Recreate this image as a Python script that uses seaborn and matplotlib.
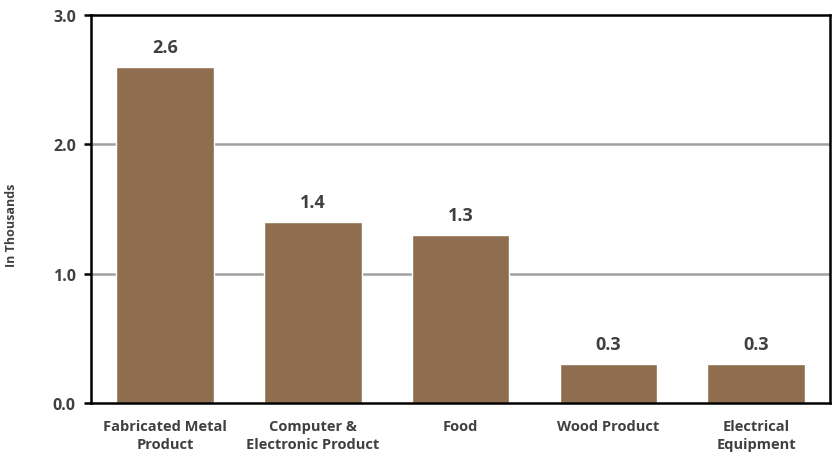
import matplotlib
matplotlib.use('Agg')
import matplotlib.pyplot as plt
import seaborn as sns

categories = ['Fabricated Metal\nProduct', 'Computer &\nElectronic Product', 'Food',
              'Wood Product', 'Electrical\nEquipment']
values = [2.6, 1.4, 1.3, 0.3, 0.3]
bar_labels = ['2.6', '1.4', '1.3', '0.3', '0.3']

sns.set_style('white')
plt.rcParams['font.family'] = ['Open Sans', 'DejaVu Sans']

fig = plt.figure(figsize=(8.36, 4.56), dpi=100)
ax = fig.add_axes([0.109, 0.114, 0.884, 0.851])

sns.barplot(x=categories, y=values, color='#8E6E4F', saturation=1, width=0.66, ax=ax)

ax.set_ylim(0, 3.0)
ax.set_yticks([0, 1, 2, 3])
ax.set_yticklabels(['0.0', '1.0', '2.0', '3.0'])
for y in [1.0, 2.0]:
    ax.axhline(y, color='#A0A0A0', lw=1.8, zorder=0)

for s in ax.spines.values():
    s.set_color('black')
    s.set_linewidth(1.8)

ax.tick_params(axis='y', left=True, length=5, width=1.8, color='black',
               labelsize=11.5, labelcolor='#404040', pad=6)
ax.tick_params(axis='x', bottom=False, labelsize=10.5, labelcolor='#404040', pad=8)
for lab in ax.get_xticklabels() + ax.get_yticklabels():
    lab.set_fontweight('bold')
for lab in ax.get_xticklabels():
    lab.set_linespacing(1.35)

ax.set_xlabel('')
ax.set_ylabel('In Thousands', fontsize=9, fontweight='bold', color='#404040')
ax.yaxis.set_label_coords(-0.099, 0.46)

for bar, text in zip(ax.patches, bar_labels):
    ax.annotate(text, (bar.get_x() + bar.get_width() / 2, bar.get_height()),
                xytext=(0, 8), textcoords='offset points', ha='center', va='bottom',
                fontsize=13, fontweight='bold', color='#404040')

fig.savefig('out.png', dpi=100)
